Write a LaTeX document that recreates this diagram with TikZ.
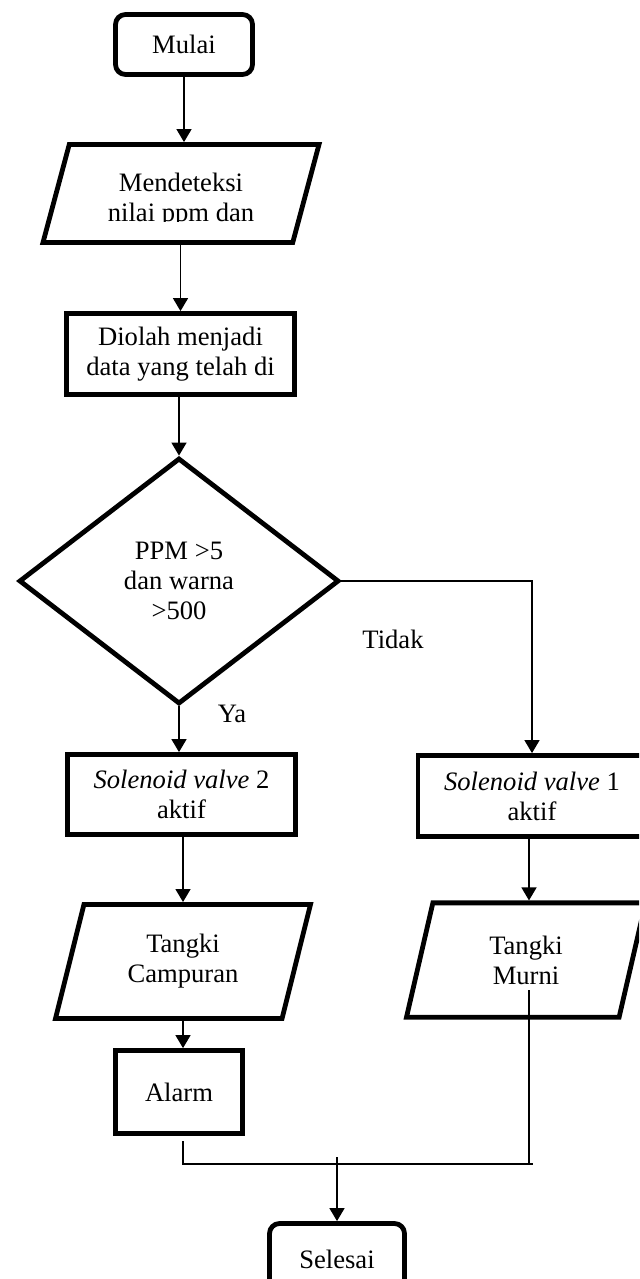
\documentclass[tikz,border=0pt]{standalone}
\usepackage{fontspec}
\setmainfont{Liberation Serif}
\usetikzlibrary{shapes.geometric,arrows.meta}

\begin{document}
\begin{tikzpicture}[x=0.5pt,y=-0.5pt,
    font=\fontsize{13.3}{15}\selectfont,
    box/.style={draw,line width=2.4pt,inner sep=0pt,align=center},
    term/.style={box,rounded corners=5pt,minimum width=68.5pt,minimum height=30pt},
    proc/.style={box,minimum width=114pt,minimum height=40.5pt},
    io/.style={box,trapezium,trapezium stretches body,trapezium left angle=#1,trapezium right angle=180-#1},
    decide/.style={box,diamond,minimum width=160pt,minimum height=123pt},
    conn/.style={line width=0.7pt},
    arr/.style={conn,-{Triangle[width=7.5pt,length=6.5pt]}}]
    \path[use as bounding box,clip] (0,0) rectangle (639,1279);

    % Boxes, left column
    \node[term] (start) at (184,44.5) {Mulai};
    \node[io=75,minimum width=138pt,inner ysep=24.5pt] (detect) at (181,193.5) {};
    \node[proc] (olah) at (180.5,354) {Diolah menjadi\\data yang telah di};
    \node[decide] (dec) at (179,581) {PPM >5\\dan warna\\>500};
    \node[proc,minimum height=40pt] (sv2) at (181.5,794.5) {\textit{Solenoid valve} 2\\aktif};
    \node[io=76,minimum width=127.5pt,inner ysep=15pt] (campur) at (183,961.5) {Tangki\\Campuran};
    \node[proc,minimum width=63.5pt,minimum height=41.5pt] (alarm) at (179,1092) {Alarm};

    % Boxes, right column
    \node[proc] (sv1) at (532,796) {\textit{Solenoid valve} 1\\aktif};
    \node[io=77,minimum width=119.5pt,inner ysep=16.4pt] (murni) at (526,960) {Tangki\\Murni};

    \node[term,minimum width=67.5pt,minimum height=35.5pt] (stop) at (337,1259) {Selesai};

    % Text of the input box, cut off as printed
    \begin{scope}
        \clip (0,0) rectangle (639,221);
        \node[align=center] (detecttxt) at (181,200) {Mendeteksi\\nilai ppm dan};
    \end{scope}

    % Branch labels
    \node (ya) at (232,714) {Ya};
    \node (tidak) at (393,639) {Tidak};

    % Arrows
    \draw[arr] (start) -- (start |- detect.north);
    \draw[arr] (olah |- detect.south) -- (olah.north);
    \draw[arr] (dec.north |- olah.south) -- (dec.north);
    \draw[arr] (dec.south) -- (dec.south |- sv2.north);
    \draw[arr] (dec.east) -| (sv1.north);
    \draw[arr] (sv2.south -| campur.north) -- (campur.north);
    \draw[arr] (campur.south) -- (campur.south |- alarm.north);
    \draw[arr] (sv1.south -| 529,0) -- (murni.north -| 529,0);

    % Joining lines
    \coordinate (alarmout) at (183,1141);
    \coordinate (joinL) at (183,1164);
    \coordinate (joinR) at (533,1164);
    \coordinate (murniout) at (529,990);
    \coordinate (joinM) at (337,1157);
    \draw[conn] (alarmout) -- (joinL) -- (joinR);
    \draw[conn] (murniout) -- (murniout |- joinR);
    \draw[arr] (joinM) -- (stop.north);
\end{tikzpicture}
\end{document}
